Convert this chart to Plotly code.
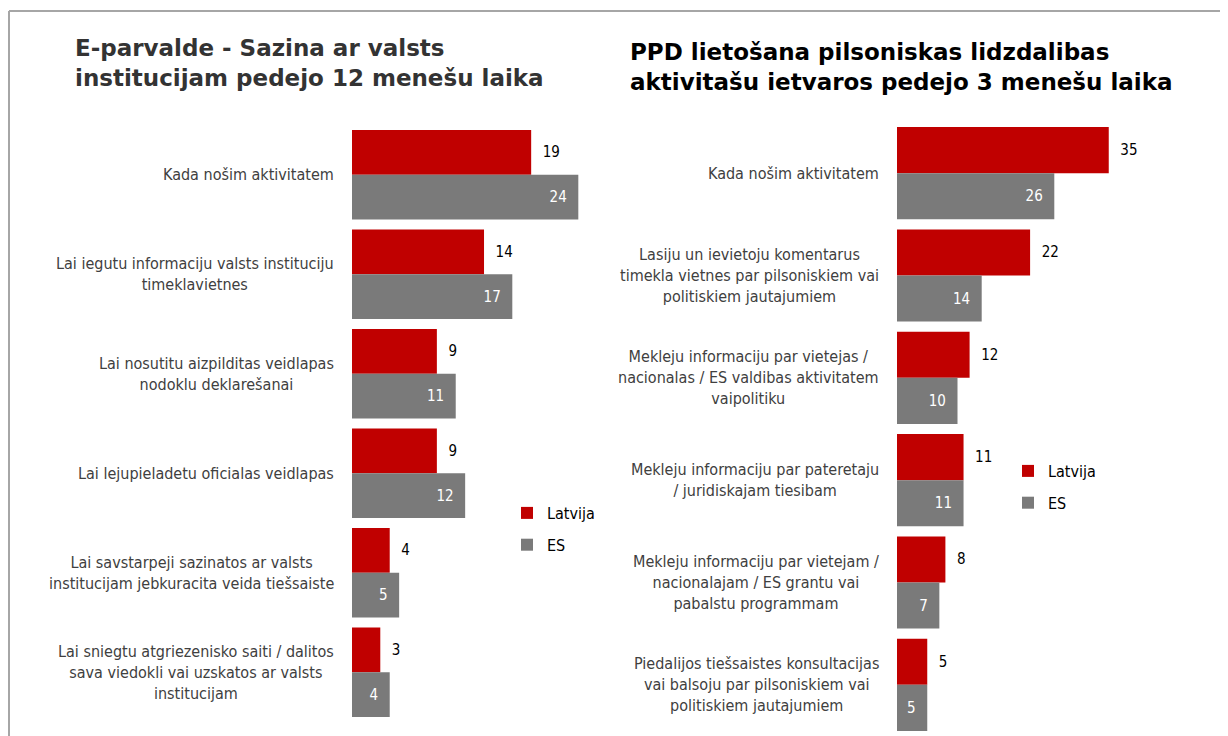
import plotly.graph_objects as go

# the page body adds an 8px margin, so the figure is drawn 8px in and down
OFF = 8
W, H = 1228 - OFF, 736 - OFF

left_title = "E-parvalde - Sazina ar valsts<br>institucijam pedejo 12 menešu laika"
right_title = "PPD lietošana pilsoniskas lidzdalibas<br>aktivitašu ietvaros pedejo 3 menešu laika"

left_labels = [
    "Kada nošim aktivitatem",
    "Lai iegutu informaciju valsts instituciju<br>timeklavietnes",
    "Lai nosutitu aizpilditas veidlapas<br>nodoklu deklarešanai",
    "Lai lejupieladetu oficialas veidlapas",
    "Lai savstarpeji sazinatos ar valsts<br>institucijam jebkuracita veida tiešsaiste",
    "Lai sniegtu atgriezenisko saiti / dalitos<br>sava viedokli vai uzskatos ar valsts<br>institucijam",
]
left_latvija = [19, 14, 9, 9, 4, 3]
left_es = [24, 17, 11, 12, 5, 4]

right_labels = [
    "Kada nošim aktivitatem",
    "Lasiju un ievietoju komentarus<br>timekla vietnes par pilsoniskiem vai<br>politiskiem jautajumiem",
    "Mekleju informaciju par vietejas /<br>nacionalas / ES valdibas aktivitatem<br>vaipolitiku",
    "Mekleju informaciju par pateretaju<br>/ juridiskajam tiesibam",
    "Mekleju informaciju par vietejam /<br>nacionalajam / ES grantu vai<br>pabalstu programmam",
    "Piedalijos tiešsaistes konsultacijas<br>vai balsoju par pilsoniskiem vai<br>politiskiem jautajumiem",
]
right_latvija = [35, 22, 12, 11, 8, 5]
right_es = [26, 14, 10, 11, 7, 5]

RED = "#C00000"
GREY = "#7A7A7A"
LABEL_FONT = "DejaVu Sans Condensed, Liberation Sans Narrow, sans-serif"
NB = "\u00a0"


def px_x(p):
    return (p - OFF) / W


def px_y(p):
    return 1 - (p - OFF) / H


fig = go.Figure()

for labels, lat, es, xa, ya, leg in [
    (left_labels, left_latvija, left_es, "x", "y", "legend"),
    (right_labels, right_latvija, right_es, "x2", "y2", "legend2"),
]:
    fig.add_trace(go.Bar(
        y=labels, x=lat, orientation="h", name="Latvija",
        marker=dict(color=RED, line=dict(width=0)),
        text=lat, texttemplate=NB * 2 + "%{x}", textposition="outside",
        textfont=dict(family=LABEL_FONT, size=15, color="#000000"),
        cliponaxis=False, xaxis=xa, yaxis=ya, legend=leg, legendgroup=leg + "a",
    ))
    fig.add_trace(go.Bar(
        y=labels, x=es, orientation="h", name="ES",
        marker=dict(color=GREY, line=dict(width=0)),
        text=es, texttemplate="%{x}" + NB * 2, textposition="inside",
        insidetextanchor="end",
        textfont=dict(family=LABEL_FONT, size=15, color="#FFFFFF"),
        xaxis=xa, yaxis=ya, legend=leg, legendgroup=leg + "b",
    ))

annotations = [
    dict(text="<b>" + left_title + "</b>", x=px_x(73), y=px_y(33), xref="paper", yref="paper",
         xanchor="left", yanchor="top", align="left", showarrow=False,
         font=dict(family="DejaVu Sans", size=23, color="#333333")),
    dict(text="<b>" + right_title + "</b>", x=px_x(628), y=px_y(37), xref="paper", yref="paper",
         xanchor="left", yanchor="top", align="left", showarrow=False,
         font=dict(family="DejaVu Sans", size=23, color="#000000")),
]
for lab in left_labels:
    annotations.append(dict(text=lab, x=px_x(336), y=lab, xref="paper", yref="y",
                            xanchor="right", yanchor="middle", align="center", showarrow=False,
                            font=dict(family=LABEL_FONT, size=16, color="#404040")))
for lab in right_labels:
    annotations.append(dict(text=lab, x=px_x(881), y=lab, xref="paper", yref="y2",
                            xanchor="right", yanchor="middle", align="center", showarrow=False,
                            font=dict(family=LABEL_FONT, size=16, color="#404040")))

legend_style = dict(font=dict(family=LABEL_FONT, size=16, color="#000000"),
                    bgcolor="rgba(0,0,0,0)", traceorder="grouped", tracegroupgap=8,
                    xanchor="left", yanchor="top", itemwidth=30)

fig.update_layout(
    width=W, height=H, autosize=False,
    margin=dict(l=0, r=0, t=0, b=0),
    paper_bgcolor="white", plot_bgcolor="white",
    barmode="group", bargap=0.1, bargroupgap=0,
    showlegend=True,
    legend=dict(x=px_x(507), y=px_y(496), **legend_style),
    legend2=dict(x=px_x(1008), y=px_y(454), **legend_style),
    xaxis=dict(domain=[px_x(352), px_x(620)], range=[0, 268 / 9.43], visible=False),
    yaxis=dict(domain=[px_y(722), px_y(125)], autorange="reversed", visible=False),
    xaxis2=dict(domain=[px_x(897), px_x(1200)], range=[0, 303 / 6.05], visible=False),
    yaxis2=dict(domain=[px_y(736), px_y(122)], autorange="reversed", visible=False, anchor="x2"),
    annotations=annotations,
    shapes=[
        dict(type="line", xref="paper", yref="paper", x0=px_x(9), x1=1, y0=px_y(11), y1=px_y(11),
             line=dict(color="#A6A6A6", width=2)),
        dict(type="line", xref="paper", yref="paper", x0=px_x(9), x1=px_x(9), y0=px_y(11), y1=0,
             line=dict(color="#A6A6A6", width=2)),
    ],
)
fig.update_xaxes(fixedrange=True)

fig.write_html("out.html")
